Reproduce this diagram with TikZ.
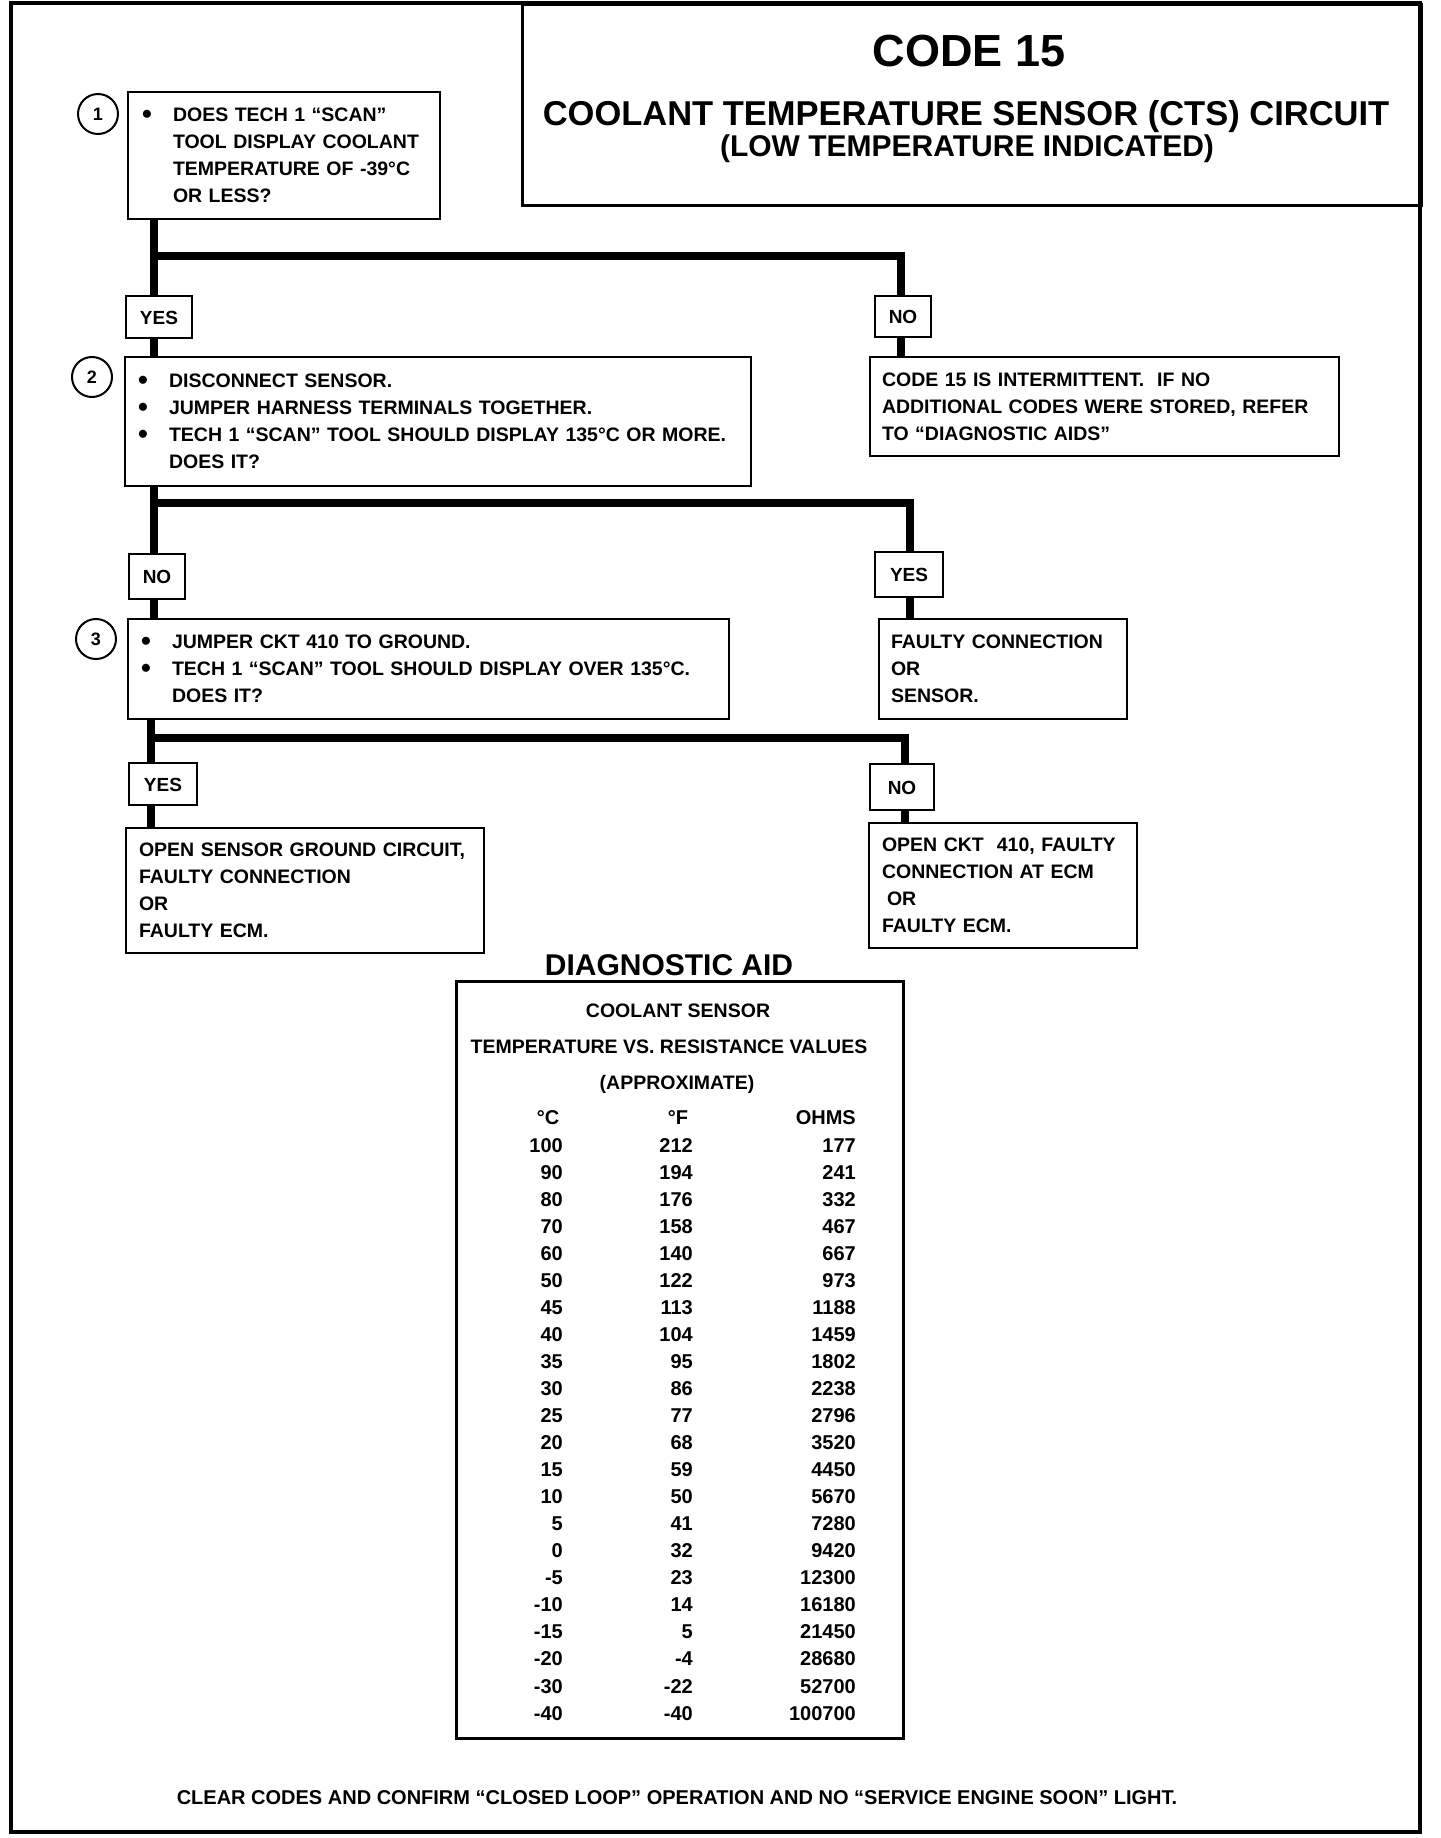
\documentclass[tikz,border=0pt]{standalone}
\usepackage{fontspec}
\setmainfont{Liberation Sans}
\newcommand\bulit{\makebox[31pt][l]{\raisebox{-2pt}{\fontsize{28}{28}\selectfont •}}}
\newcommand\indt{\hspace*{31pt}}
\begin{document}
\begin{tikzpicture}[x=1pt,y=-1pt,
  box/.style={draw, line width=2pt, fill=white, align=left, inner ysep=0pt, anchor=north west,
    font=\bfseries\fontsize{19.5}{27}\selectfont},
  lab/.style={draw, line width=2pt, fill=white, inner sep=0pt, anchor=north west,
    text height=14pt, text depth=0pt, font=\bfseries\fontsize{19}{23}\selectfont},
  conn/.style={line width=7.5pt},
  num/.style={circle, draw, line width=2pt, minimum size=40pt, inner sep=0pt,
    font=\bfseries\fontsize{18}{20}\selectfont},
  capc/.style={text height=#1, text depth=0pt, inner sep=0pt},
  cell/.style={capc=14pt, font=\bfseries\fontsize{20}{24}\selectfont},
  hd/.style={capc=14pt, font=\bfseries\fontsize{19.5}{24}\selectfont}
]
\useasboundingbox (0,0) rectangle (1440,1838);
\fill[white] (0,0) rectangle (1440,1838);

% outer frame
\draw[line width=4pt] (11,3) rectangle (1420,1832);

% title box
\node[draw, line width=3pt, minimum width=899, minimum height=201, anchor=north west, inner sep=0pt] (tb) at (521,3) {};
\node[capc=32.2pt, font=\bfseries\fontsize{45}{50}\selectfont] (t1) at (969,50) {CODE 15};
\node[capc=24.7pt, font=\bfseries\fontsize{34.5}{40}\selectfont] (t2) at (966,113) {COOLANT TEMPERATURE SENSOR (CTS) CIRCUIT};
\node[capc=21.5pt, font=\bfseries\fontsize{30}{34}\selectfont] (t3) at (967,146) {(LOW TEMPERATURE INDICATED)};

% junction coordinates
\coordinate (j1) at (154,256);
\coordinate (k1) at (901,256);
\coordinate (j2) at (154,503);
\coordinate (k2) at (910,503);
\coordinate (j3) at (151,738);
\coordinate (k3) at (905,738);

% main boxes
\node[box, text width=284, inner xsep=14pt, minimum height=127] (b1) at (127,91)
 {\bulit DOES TECH 1 “SCAN”\\\indt TOOL DISPLAY COOLANT\\\indt TEMPERATURE OF -39°C\\\indt OR LESS?};
\node[box, text width=600, inner xsep=13pt, minimum height=129] (b2) at (124,356)
 {\bulit DISCONNECT SENSOR.\\\bulit JUMPER HARNESS TERMINALS TOGETHER.\\\bulit TECH 1 “SCAN” TOOL SHOULD DISPLAY 135°C OR MORE.\\\indt DOES IT?};
\node[box, text width=445, inner xsep=12pt, minimum height=99] (r1) at (869,356)
 {CODE 15 IS INTERMITTENT.\ \ IF NO\\ADDITIONAL CODES WERE STORED, REFER\\TO “DIAGNOSTIC AIDS”};
\node[box, text width=575, inner xsep=13pt, minimum height=100] (b3) at (127,618)
 {\bulit JUMPER CKT 410 TO GROUND.\\\bulit TECH 1 “SCAN” TOOL SHOULD DISPLAY OVER 135°C.\\\indt DOES IT?};
\node[box, text width=224, inner xsep=12pt, minimum height=100] (r2) at (878,618)
 {FAULTY CONNECTION\\OR\\SENSOR.};
\node[box, text width=332, inner xsep=13pt, minimum height=125] (r3) at (125,827)
 {OPEN SENSOR GROUND CIRCUIT,\\FAULTY CONNECTION\\OR\\FAULTY ECM.};
\node[box, text width=242, inner xsep=13pt, minimum height=125] (r4) at (868,822)
 {OPEN CKT\ \ 410, FAULTY\\CONNECTION AT ECM\\\hspace*{5pt}OR\\FAULTY ECM.};

% connectors
\draw[conn] (b1.south -| j1) -- (b2.north -| j1);
\draw[conn] (j1) -- (k1) -- (r1.north -| k1);
\draw[conn] (b2.south -| j2) -- (b3.north -| j2);
\draw[conn] (j2) -- (k2) -- (r2.north -| k2);
\draw[conn] (b3.south -| j3) -- (r3.north -| j3);
\draw[conn] (j3) -- (k3) -- (r4.north -| k3);

% labels
\node[lab, minimum width=66, minimum height=42] (y1) at (125,295) {YES};
\node[lab, minimum width=56, minimum height=41] (n1) at (874,295) {NO};
\node[lab, minimum width=56, minimum height=45] (n2) at (128,553) {NO};
\node[lab, minimum width=68, minimum height=45] (y2) at (874,551) {YES};
\node[lab, minimum width=68, minimum height=42] (y3) at (128,762) {YES};
\node[lab, minimum width=64, minimum height=46] (n3) at (869,763) {NO};

% step numbers
\node[num] (c1) at (98,114) {1};
\node[num] (c2) at (92,377) {2};
\node[num] (c3) at (96,639) {3};

% diagnostic aid
\node[capc=21.5pt, font=\bfseries\fontsize{30}{34}\selectfont] (da) at (669,965) {DIAGNOSTIC AID};
\node[draw, line width=2.5pt, minimum width=447, minimum height=757, anchor=north west, inner sep=0pt] (tbl) at (455,980) {};
\node[hd] (h1) at (678,1010) {COOLANT SENSOR};
\node[hd] (h2) at (669,1046) {TEMPERATURE VS. RESISTANCE VALUES};
\node[hd] (h3) at (677,1082) {(APPROXIMATE)};
\node[cell] (hc) at (548,1117) {°C};
\node[cell] (hf) at (678,1117) {°F};
\node[cell, anchor=east] (ho) at (856,1117) {OHMS};
\foreach \c/\f/\o [count=\i from 0] in {100/212/177, 90/194/241, 80/176/332, 70/158/467, 60/140/667, 50/122/973, 45/113/1188, 40/104/1459, 35/95/1802, 30/86/2238, 25/77/2796, 20/68/3520, 15/59/4450, 10/50/5670, 5/41/7280, 0/32/9420, -5/23/12300, -10/14/16180, -15/5/21450, -20/-4/28680, -30/-22/52700, -40/-40/100700}{
  \node[cell, anchor=east] (rc\i) at (563,{1145+27.05*\i}) {\c};
  \node[cell, anchor=east] (rf\i) at (693,{1145+27.05*\i}) {\f};
  \node[cell, anchor=east] (ro\i) at (856,{1145+27.05*\i}) {\o};
}

% bottom note
\node[capc=14.3pt, font=\bfseries\fontsize{20}{24}\selectfont] (foot) at (677,1797)
 {CLEAR CODES AND CONFIRM “CLOSED LOOP” OPERATION AND NO “SERVICE ENGINE SOON” LIGHT.};
\end{tikzpicture}
\end{document}
